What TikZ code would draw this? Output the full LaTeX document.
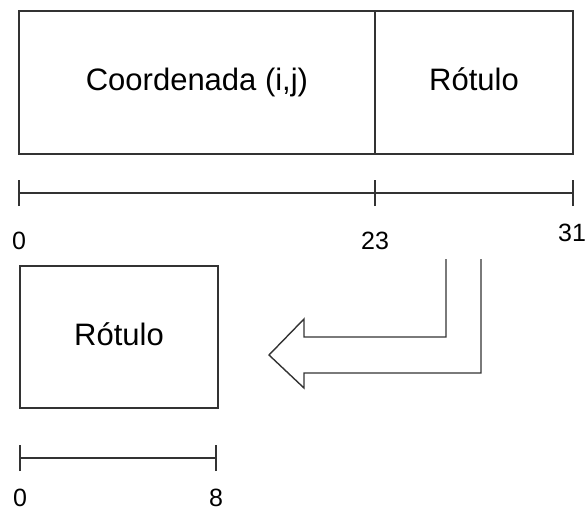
\documentclass[tikz,border=0pt]{standalone}
\usepackage{fontspec}
\setmainfont{Liberation Sans}
\begin{document}
\begin{tikzpicture}[x=1pt,y=-1pt,
  ln/.style={line width=1.4pt, draw=black!80},
  field/.style={draw=black!80, line width=1.4pt, rectangle, inner sep=0pt,
    minimum height=143pt, text height=22pt, text depth=6pt,
    font=\fontsize{31}{36}\selectfont},
  scalelabel/.style={font=\fontsize{25}{30}\selectfont, inner sep=0pt, anchor=base}]
\useasboundingbox (0,0) rectangle (586,511);

% Record layout: coordinate field and label field
\node[field, minimum width=356pt] (coord) at (197,82.5) {Coordenada (i,j)};
\node[field, minimum width=198pt] (rot) at (474,82.5) {Rótulo};

% Bit scale under the record
\coordinate (s0) at (19,193);
\coordinate (s23) at (375,193);
\coordinate (s31) at (573,193);
\draw[ln] (s0) -- (s31);
\foreach \p in {s0,s23,s31} \draw[ln] ([yshift=-13pt]\p) -- ([yshift=13pt]\p);
\node[scalelabel] (l0) at (19,249) {0};
\node[scalelabel] (l23) at (375,249) {23};
\node[scalelabel] (l31) at (572,241) {31};

% Extracted label field
\node[field, minimum width=198pt, minimum height=142pt] (low) at (119,337) {Rótulo};

% Bit scale under the extracted field
\coordinate (t0) at (20,458);
\coordinate (t8) at (216,458);
\draw[ln] (t0) -- (t8);
\foreach \p in {t0,t8} \draw[ln] ([yshift=-13pt]\p) -- ([yshift=13pt]\p);
\node[scalelabel] (m0) at (20,506.5) {0};
\node[scalelabel] (m8) at (216,506.5) {8};

% Hollow bent arrow
\draw[ln, line join=miter] (446,259) -- (446,337) -- (304,337) -- (304,319) -- (269,355)
  -- (304,388) -- (304,373) -- (481,373) -- (481,259);
\end{tikzpicture}
\end{document}
